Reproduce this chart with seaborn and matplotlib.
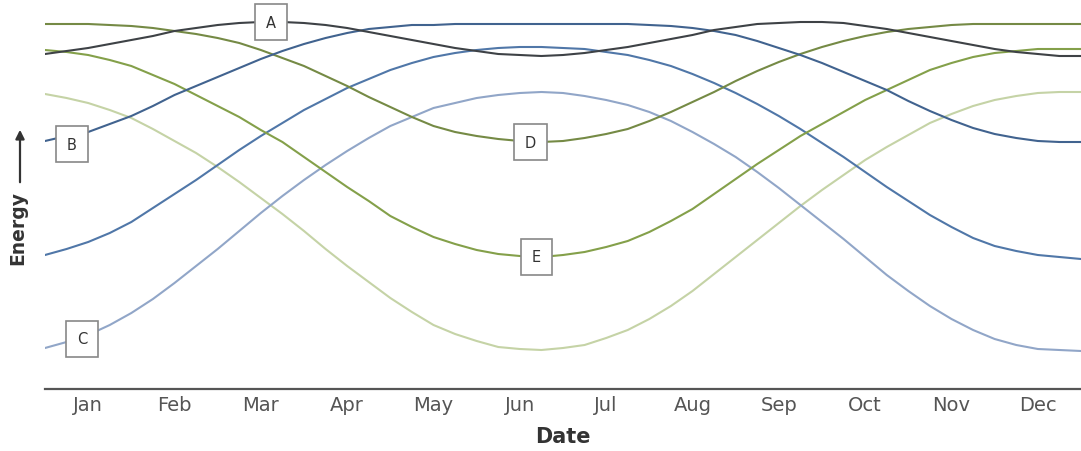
import numpy as np
import pandas as pd
import matplotlib
matplotlib.use("Agg")
import matplotlib.pyplot as plt
import seaborn as sns

# month names shown under the axis
months = ['Jan', 'Feb', 'Mar', 'Apr', 'May', 'Jun',
          'Jul', 'Aug', 'Sep', 'Oct', 'Nov', 'Dec']

# sample dates, every quarter month from start of Jan to end of Dec
date = np.arange(0, 12.01, 0.25)

# energy values (arbitrary units)
curve_a = [335, 338, 341, 345, 349, 353, 358, 361, 364, 366, 367, 367, 366,
           364, 361, 357, 353, 349, 345, 341, 338, 335, 334, 333, 334, 336,
           339, 342, 346, 350, 354, 359, 362, 365, 366, 367, 367, 366, 363,
           360, 356, 352, 348, 344, 340, 337, 335, 333, 333]
curve_b = [248, 253, 257, 265, 273, 283, 294, 303, 312, 321, 330, 338, 345,
           351, 356, 360, 362, 364, 364, 365, 365, 365, 365, 365, 365, 365,
           365, 365, 364, 363, 361, 358, 354, 348, 341, 334, 326, 317, 308,
           299, 288, 278, 269, 261, 255, 251, 248, 247, 247]
curve_mid = [134, 140, 147, 156, 167, 181, 195, 209, 224, 239, 253, 266, 279,
             290, 301, 310, 319, 326, 332, 336, 339, 341, 342, 342, 341, 340,
             337, 334, 329, 323, 315, 306, 296, 285, 273, 260, 246, 232, 217,
             202, 188, 174, 162, 151, 143, 138, 134, 132, 130]
curve_c = [41, 47, 54, 64, 76, 90, 106, 123, 140, 158, 176, 193, 209, 224,
           238, 251, 263, 272, 281, 286, 291, 294, 296, 297, 296, 293, 289,
           284, 277, 268, 257, 245, 232, 217, 201, 184, 167, 150, 132, 114,
           98, 83, 70, 59, 50, 44, 40, 39, 38]
curve_d = [365, 365, 365, 364, 363, 361, 358, 355, 351, 346, 339, 331, 323,
           313, 303, 292, 282, 272, 263, 257, 253, 250, 248, 247, 248, 251,
           255, 260, 268, 277, 287, 297, 308, 318, 327, 335, 342, 348, 353,
           357, 360, 362, 364, 365, 365, 365, 365, 365, 365]
curve_e = [339, 337, 334, 329, 323, 314, 305, 294, 283, 272, 259, 247, 232,
           217, 202, 188, 173, 162, 152, 145, 139, 135, 133, 132, 134, 137,
           142, 148, 157, 168, 180, 195, 210, 225, 239, 253, 265, 277, 289,
           299, 309, 319, 326, 332, 336, 338, 340, 340, 340]
curve_light = [295, 291, 286, 279, 271, 260, 248, 236, 222, 207, 191, 175,
               158, 140, 123, 107, 91, 77, 64, 55, 48, 42, 40, 39, 41, 44,
               51, 59, 70, 83, 98, 115, 132, 149, 166, 183, 199, 214, 229,
               242, 254, 266, 275, 283, 289, 293, 296, 297, 297]

series = {
    'light': curve_light,
    'c': curve_c,
    'mid': curve_mid,
    'e': curve_e,
    'd': curve_d,
    'b': curve_b,
    'a': curve_a,
}
colors = {
    'light': '#c5d3a6',
    'c': '#91a6c8',
    'mid': '#5077a8',
    'e': '#84a04a',
    'd': '#758a45',
    'b': '#41638f',
    'a': '#3e4246',
}

df = pd.concat([pd.DataFrame({'date': date, 'energy': v, 'curve': k})
                for k, v in series.items()], ignore_index=True)

sns.set_style("white")
plt.rcParams['font.family'] = ['DejaVu Sans']

W, H = 1081, 452
fig = plt.figure(figsize=(W / 100, H / 100), dpi=100)
ax = fig.add_axes([45 / W, 62 / H, (W - 45) / W, 380 / H])

sns.lineplot(data=df, x='date', y='energy', hue='curve', palette=colors,
             hue_order=list(series.keys()), estimator=None, sort=False,
             linewidth=1.5, legend=False, ax=ax)

ax.set_xlim(0, 12)
ax.set_ylim(0, 380)

for s in ['left', 'top', 'right']:
    ax.spines[s].set_visible(False)
ax.spines['bottom'].set_color('#555555')
ax.spines['bottom'].set_linewidth(1.6)

ax.set_xticks(range(13))
ax.set_xticklabels([])
ax.set_xticks(np.arange(0.5, 12, 1), minor=True)
ax.set_xticklabels(months, minor=True)
ax.tick_params(axis='x', which='major', direction='out', length=5,
               width=1.3, color='#555555')
ax.tick_params(axis='x', which='minor', length=0, labelsize=14,
               labelcolor='#555555', pad=4)
ax.set_yticks([])
ax.set_xlabel('')
ax.set_ylabel('')

# curve labels in boxes
labels = [('A', 2.62, 367), ('B', 0.31, 245), ('C', 0.43, 50),
          ('D', 5.62, 247), ('E', 5.69, 132)]
for name, lx, ly in labels:
    ax.text(lx, ly, name, ha='center', va='center', fontsize=10.5,
            color='#333333', zorder=5,
            bbox=dict(boxstyle='square,pad=0.75', fc='white',
                      ec='#888888', lw=1.2))

fig.text(563 / W, 1 - 437 / H, 'Date', ha='center', va='center',
         fontsize=15, fontweight='bold', color='#333333')
fig.text(18 / W, 1 - 228 / H, 'Energy', rotation=90, ha='center',
         va='center', fontsize=13.5, fontweight='bold', color='#333333')
ax.annotate('', xy=(20 / W, 1 - 128 / H), xycoords='figure fraction',
            xytext=(20 / W, 1 - 186 / H), textcoords='figure fraction',
            arrowprops=dict(arrowstyle='-|>', color='#333333', lw=1.6,
                            mutation_scale=13))

fig.savefig('out.png', dpi=100)
